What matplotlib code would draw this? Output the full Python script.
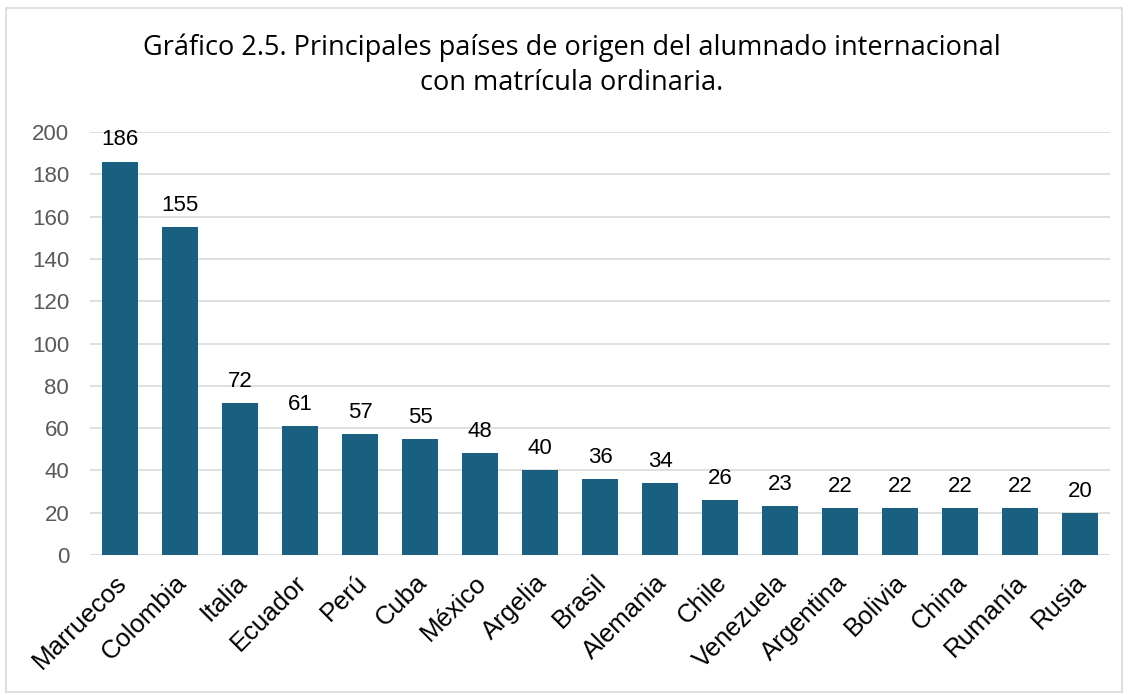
import matplotlib.pyplot as plt
from matplotlib.patches import Rectangle
from matplotlib.transforms import ScaledTranslation

paises = ["Marruecos", "Colombia", "Italia", "Ecuador", "Perú", "Cuba", "México",
          "Argelia", "Brasil", "Alemania", "Chile", "Venezuela", "Argentina",
          "Bolivia", "China", "Rumanía", "Rusia"]
alumnos = [186, 155, 72, 61, 57, 55, 48, 40, 36, 34, 26, 23, 22, 22, 22, 22, 20]
yticks = list(range(0, 201, 20))

plt.rcParams['font.family'] = ['Liberation Sans', 'DejaVu Sans']

fig = plt.figure(figsize=(11.3, 6.95), dpi=100)
fig.patches.append(Rectangle((6 / 1130, 3 / 695), 1116 / 1130, 684 / 695,
                             transform=fig.transFigure, fill=False,
                             edgecolor='#d9d9d9', linewidth=1.2))

ax = fig.add_axes([90 / 1130, 1 - 555 / 695, 1020 / 1130, 423 / 695])
x = range(len(paises))
bars = ax.bar(x, alumnos, width=0.6, color='#185F80', zorder=3)
ax.set_xlim(-0.5, len(paises) - 0.5)
ax.set_ylim(0, 200)
ax.set_yticks(yticks)
ax.grid(axis='y', color='#d9d9d9', linewidth=1.2, zorder=0)
for s in ax.spines.values():
    s.set_visible(False)
ax.tick_params(axis='y', length=0, labelsize=16, labelcolor='#595959', pad=15)
ax.tick_params(axis='x', length=0, labelsize=18.5, pad=11)
ax.set_xticks(list(x))
ax.set_xticklabels(paises, rotation=45, ha='right', rotation_mode='anchor')
shift = ScaledTranslation(-4 / 72, 0, fig.dpi_scale_trans)
for lbl in ax.get_xticklabels():
    lbl.set_transform(lbl.get_transform() + shift)

for b, v in zip(bars, alumnos):
    ax.annotate(str(v), (b.get_x() + b.get_width() / 2, v), xytext=(0, 8),
                textcoords='offset points', ha='center', va='bottom', fontsize=16)

fig.text(572 / 1130, 1 - 65 / 695,
         "Gráfico 2.5. Principales países de origen del alumnado internacional\ncon matrícula ordinaria.",
         ha='center', va='center', fontsize=19.5, linespacing=1.35,
         family=['Open Sans', 'DejaVu Sans'])

fig.savefig('out.png', dpi=100)
